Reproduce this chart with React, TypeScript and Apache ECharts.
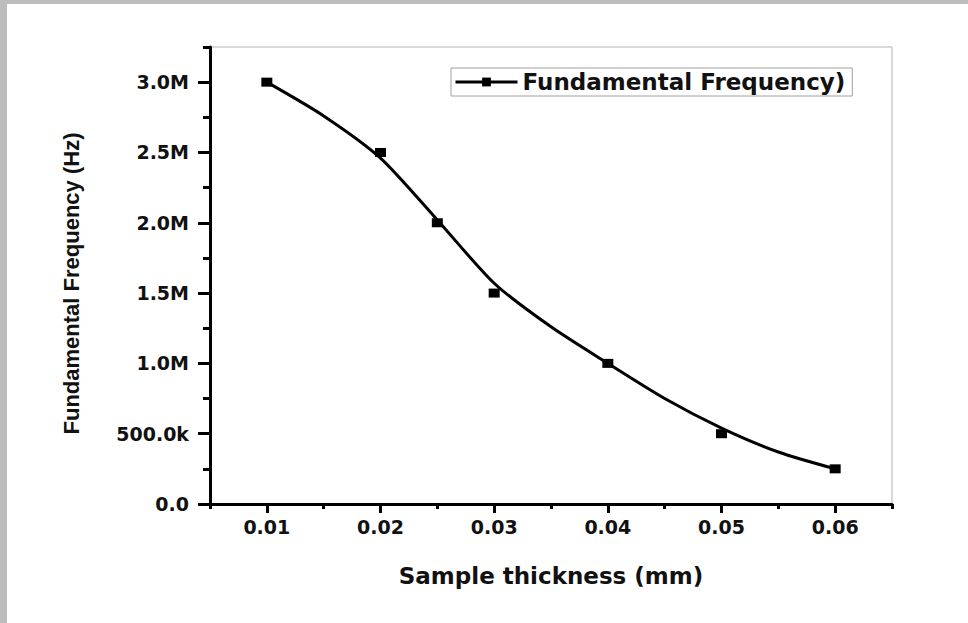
import React, { useEffect, useRef } from "react";
import * as echarts from "echarts";

// Measured data points (sample thickness in mm, fundamental frequency in Hz)
const thickness = [0.01, 0.02, 0.025, 0.03, 0.04, 0.05, 0.06];
const frequency = [3.0e6, 2.5e6, 2.0e6, 1.5e6, 1.0e6, 0.5e6, 0.25e6];

// Smoothed fit curve
const curveX = [0.01, 0.015, 0.02, 0.025, 0.03, 0.035, 0.04, 0.045, 0.05, 0.055, 0.06];
const curveY = [3.0e6, 2.76e6, 2.46e6, 2.02e6, 1.57e6, 1.26e6, 1.0e6, 0.75e6, 0.54e6, 0.37e6, 0.25e6];

// Axis ticks
const xMajorTicks = [0.01, 0.02, 0.03, 0.04, 0.05, 0.06];
const xMinorTicks = [0.005, 0.015, 0.025, 0.035, 0.045, 0.055, 0.065];
const yMajorTicks = [0, 0.5e6, 1.0e6, 1.5e6, 2.0e6, 2.5e6, 3.0e6];
const yMinorTicks = [0.25e6, 0.75e6, 1.25e6, 1.75e6, 2.25e6, 2.75e6, 3.25e6];

const seriesName = "Fundamental Frequency)";
const xTitle = "Sample thickness (mm)";
const yTitle = "Fundamental Frequency (Hz)";

const FONT = "DejaVu Sans";

function fmtY(v: number): string {
  if (v === 0) return "0.0";
  if (v < 1e6) return (v / 1000).toFixed(1) + "k";
  return (v / 1e6).toFixed(1) + "M";
}

export default function App() {
  const ref = useRef<HTMLDivElement>(null);
  useEffect(() => {
    document.body.style.margin = "0";
    const chart = echarts.init(ref.current!, null, { renderer: "svg" });
    const curve = curveX.map((x, i) => [x, curveY[i]]);
    const pts = thickness.map((x, i) => [x, frequency[i]]);
    chart.setOption({
      animation: false,
      backgroundColor: "#ffffff",
      graphic: [
        { type: "rect", left: 0, top: 0, shape: { width: 968, height: 4 }, style: { fill: "#bdbdbd" }, silent: true },
        { type: "rect", left: 0, top: 0, shape: { width: 7, height: 623 }, style: { fill: "#bdbdbd" }, silent: true },
      ],
      grid: {
        left: 210,
        right: 76,
        top: 47,
        bottom: 119,
        show: true,
        borderColor: "#b3b3b3",
        borderWidth: 1,
        backgroundColor: "transparent",
      },
      legend: {
        data: [seriesName],
        left: 451,
        top: 68,
        orient: "horizontal",
        borderColor: "#a0a0a0",
        borderWidth: 1,
        borderRadius: 0,
        padding: [2, 7, 2, 3],
        itemWidth: 62,
        itemHeight: 11,
        itemGap: 5,
        selectedMode: false,
        lineStyle: { width: 3, color: "#000" },
        itemStyle: { color: "#000", opacity: 1 },
        textStyle: {
          fontFamily: FONT,
          fontWeight: "bold",
          fontSize: 23,
          color: "#111",
          lineHeight: 24,
        },
      },
      xAxis: [
        {
          type: "value",
          min: 0.005,
          max: 0.065,
          name: xTitle,
          nameLocation: "middle",
          nameGap: 60,
          nameTextStyle: { fontFamily: FONT, fontWeight: "bold", fontSize: 23, color: "#111" },
          axisLine: { show: true, onZero: false, lineStyle: { color: "#000", width: 3 } },
          axisTick: { show: true, customValues: xMajorTicks, length: 9, lineStyle: { color: "#000", width: 3 } },
          axisLabel: {
            customValues: xMajorTicks,
            formatter: (v: number) => v.toFixed(2),
            fontFamily: FONT,
            fontWeight: "bold",
            fontSize: 19,
            color: "#111",
            margin: 13,
          },
          splitLine: { show: false },
        },
        {
          type: "value",
          min: 0.005,
          max: 0.065,
          position: "bottom",
          axisLine: { show: false },
          axisTick: { show: true, customValues: xMinorTicks, length: 5, lineStyle: { color: "#000", width: 3 } },
          axisLabel: { show: false },
          splitLine: { show: false },
        },
      ],
      yAxis: [
        {
          type: "value",
          min: 0,
          max: 3.25e6,
          name: yTitle,
          nameLocation: "middle",
          nameGap: 128,
          nameTextStyle: {
            fontFamily: "Liberation Sans",
            fontWeight: "bold",
            fontSize: 22,
            color: "#111",
            padding: [0, 16, 0, 0],
          },
          axisLine: { show: true, onZero: false, lineStyle: { color: "#000", width: 3 } },
          axisTick: { show: true, customValues: yMajorTicks, length: 12, lineStyle: { color: "#000", width: 3 } },
          axisLabel: {
            customValues: yMajorTicks,
            formatter: fmtY,
            fontFamily: FONT,
            fontWeight: "bold",
            fontSize: 19,
            color: "#111",
            margin: 21,
          },
          splitLine: { show: false },
        },
        {
          type: "value",
          min: 0,
          max: 3.25e6,
          position: "left",
          axisLine: { show: false },
          axisTick: { show: true, customValues: yMinorTicks, length: 7, lineStyle: { color: "#000", width: 3 } },
          axisLabel: { show: false },
          splitLine: { show: false },
        },
      ],
      series: [
        {
          name: seriesName,
          type: "line",
          xAxisIndex: 0,
          yAxisIndex: 0,
          data: curve,
          smooth: 0.25,
          symbol: "rect",
          symbolSize: [11, 9],
          showSymbol: false,
          itemStyle: { color: "#000" },
          lineStyle: { color: "#000", width: 3 },
          z: 3,
        },
        {
          name: "points",
          type: "scatter",
          xAxisIndex: 0,
          yAxisIndex: 0,
          data: pts,
          symbol: "rect",
          symbolSize: [11, 9],
          itemStyle: { color: "#000", opacity: 1 },
          z: 4,
        },
      ],
    });
    return () => chart.dispose();
  }, []);
  return <div ref={ref} style={{ width: 968, height: 623 }} />;
}
